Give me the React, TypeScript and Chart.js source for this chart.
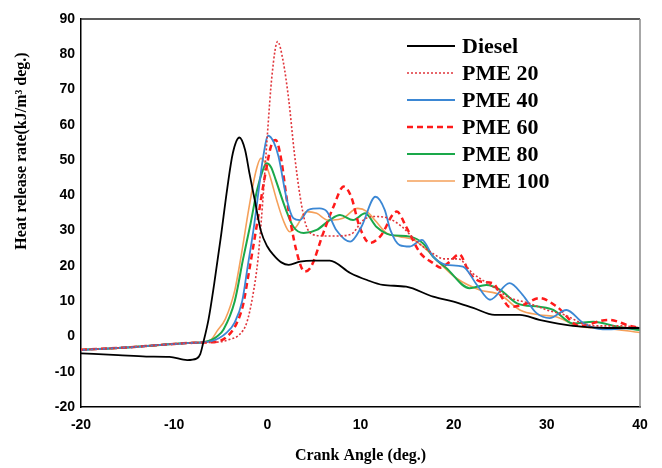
import React, { useEffect, useRef } from "react";
import { Chart, registerables } from "chart.js";

Chart.register(...registerables);

// ---- Data ----
const xTicks = [-20, -10, 0, 10, 20, 30, 40];
const yTicks = [-20, -10, 0, 10, 20, 30, 40, 50, 60, 70, 80, 90];

const dieselAngle = [-20, -16, -13, -10.5, -8.6, -7.6, -7.2, -6.9, -6.3, -5.7, -5.0, -4.3, -3.7, -3.0, -2.4, -1.9, -1.3, -0.7, 0, 0.7, 1.5, 2.3, 3.5, 5, 6.7, 8.9, 10.7, 12.4, 14.9, 17.8, 20, 22.1, 24.4, 27.1, 29.2, 32.8, 36.4, 40];
const dieselHRR = [-4.8, -5.3, -5.7, -5.8, -6.7, -6.3, -5, -2, 5, 15, 28, 42, 52, 56.4, 53, 46, 38, 30, 25.5, 23, 21, 20.3, 21.2, 21.5, 21.5, 18, 16, 14.6, 14.1, 11.3, 9.9, 8.1, 6.1, 6.1, 4.7, 3.0, 2.4, 2.4];

const pme20Angle = [-20, -15, -11.5, -8, -6.5, -5, -4, -3, -2.2, -1.6, -1.0, -0.5, 0, 0.5, 1.1, 1.7, 2.3, 2.9, 3.5, 4.1, 4.8, 6, 7.5, 9, 10.3, 11.5, 13, 14.5, 16, 17.5, 19, 20.5, 22, 24, 26, 28, 30, 32, 34, 36, 38, 40];
const pme20HRR = [-3.8, -3.1, -2.4, -1.8, -1.7, -1.5, -0.8, 0.5, 4, 11, 22, 38, 57, 74, 83.6, 78, 67, 52, 40, 32, 29, 28.5, 28.5, 29, 33, 34, 33.5, 31, 27, 24, 22, 22, 18, 14.5, 11, 9.5, 7.5, 6, 3.5, 3, 3, 2.5];

const pme40Angle = [-20, -15, -11.5, -8, -7, -6, -5.2, -4.4, -3.5, -2.7, -2.1, -1.5, -1.0, -0.5, 0.1, 0.7, 1.2, 2.1, 2.8, 3.5, 4.4, 5.6, 6.4, 7.4, 8.9, 10.1, 11.6, 12.6, 13.2, 14.2, 15.3, 16.6, 17.8, 19.2, 21, 22.5, 23.9, 26, 27.4, 28.9, 30.3, 32.1, 33.9, 36, 38, 40];
const pme40HRR = [-3.8, -3.1, -2.4, -1.8, -1.7, -1.3, -0.5, 1.0, 4, 10, 20, 30, 40, 50, 56.9, 55, 51, 38.7, 33.5, 33, 35.9, 36.3, 35.4, 30.2, 26.9, 31.1, 39.6, 35.9, 30.2, 25.9, 25.5, 27.4, 22.6, 20.3, 19.8, 14.6, 10.4, 15.1, 11.8, 6.6, 5.2, 7.5, 3.8, 2.0, 2.2, 2.4];

const pme60Angle = [-20, -15, -11.5, -8, -6.5, -5.4, -4.3, -3.3, -2.6, -2.0, -1.1, -0.2, 0.5, 0.9, 1.5, 2.1, 3.1, 4.0, 4.7, 6.0, 7.1, 8.2, 9.0, 9.9, 11.0, 12.1, 13.9, 14.9, 16.4, 17.8, 18.6, 19.5, 20.6, 21.7, 23.0, 24.2, 25.2, 26.0, 27.5, 29.2, 31.1, 33.5, 36.6, 39.2, 40];
const pme60HRR = [-3.8, -3.1, -2.4, -1.8, -1.7, -1.5, 0, 3.7, 9, 17.9, 32, 46.3, 54.8, 55.7, 50, 38.7, 24.5, 18.4, 19.8, 29.3, 36.8, 42.5, 39.6, 31.1, 26.5, 28.3, 35.4, 31.1, 23.7, 20.8, 19.5, 21, 23.3, 18, 15.5, 15.1, 11, 8.4, 9, 10.9, 8.4, 3, 4.7, 2.8, 2.5];

const pme80Angle = [-20, -15, -11.5, -8, -7, -6, -5.4, -4.7, -3.5, -2.6, -1.8, -1.1, -0.5, -0.1, 0.4, 0.9, 2.0, 2.8, 3.9, 5.3, 6.7, 7.8, 9.2, 10.5, 11.7, 13.2, 15.3, 16.7, 17.8, 19.2, 21.7, 23.5, 25, 26.8, 29.2, 30.7, 32.8, 35, 37.5, 40];
const pme80HRR = [-3.8, -3.1, -2.4, -1.8, -1.7, -1.0, 0, 2, 10, 22, 32, 41.5, 47, 49.1, 48, 44.4, 35.9, 31.1, 29.3, 30.2, 33, 34.4, 33, 34.9, 31.1, 28.8, 28.3, 26.4, 22.6, 19.4, 13.7, 14.6, 13.2, 9.4, 8.4, 7.5, 3.7, 4.2, 2.8, 1.8];

const pme100Angle = [-20, -15, -11.5, -8, -7, -6, -5.4, -4.5, -3.5, -2.8, -2.0, -1.3, -0.7, -0.2, 0.3, 1.0, 1.7, 2.4, 3.1, 4.2, 5.3, 6.5, 7.1, 8.1, 9.7, 10.7, 11.7, 12.8, 14.2, 15.7, 16.7, 18.5, 20.3, 22.8, 25, 27.1, 29.2, 31, 33.5, 36.4, 40];
const pme100HRR = [-3.8, -3.1, -2.4, -1.8, -1.6, -0.8, 1.5, 5, 13, 23, 36, 46, 50.5, 49, 45.3, 38.7, 33, 29.7, 31.1, 35.4, 34.9, 33, 33, 33.5, 36.3, 35.4, 32.5, 29.3, 28.3, 27.4, 25.5, 20.8, 16.5, 13.2, 11.8, 7.5, 6.1, 5.6, 2.8, 2.3, 1.1];

const seriesNames = ["Diesel", "PME 20", "PME 40", "PME 60", "PME 80", "PME 100"];

const xTitle = "Crank Angle (deg.)";
const yTitle = "Heat release rate(kJ/m\u00B3 deg.)";

function pts(xs: number[], ys: number[]) {
  return xs.map((x, i) => ({ x, y: ys[i] }));
}

const overlayPlugin = {
  id: "overlay",
  afterDraw(chart: any) {
    const { ctx, chartArea: a } = chart;
    ctx.save();
    // top and right frame
    ctx.lineWidth = 1.5;
    ctx.strokeStyle = "#222";
    ctx.beginPath();
    ctx.moveTo(a.left, a.top);
    ctx.lineTo(a.right, a.top);
    ctx.stroke();
    ctx.strokeStyle = "#8a8a8a";
    ctx.beginPath();
    ctx.moveTo(a.right, a.top);
    ctx.lineTo(a.right, a.bottom);
    ctx.stroke();

    // legend
    const lx0 = a.right - 233;
    const lx1 = a.right - 185;
    chart.data.datasets.forEach((ds: any, i: number) => {
      const y = a.top + 27 + i * 27;
      ctx.strokeStyle = ds.borderColor;
      ctx.lineWidth = ds.borderWidth;
      ctx.setLineDash(ds.borderDash || []);
      ctx.beginPath();
      ctx.moveTo(lx0, y);
      ctx.lineTo(lx1, y);
      ctx.stroke();
      ctx.setLineDash([]);
      ctx.fillStyle = "#000";
      ctx.font = "bold 22px 'Liberation Serif', serif";
      ctx.textBaseline = "middle";
      ctx.textAlign = "left";
      ctx.fillText(ds.label, a.right - 178, y + 1);
    });

    // axis titles
    ctx.fillStyle = "#000";
    ctx.font = "bold 16px 'Liberation Serif', serif";
    ctx.textAlign = "center";
    ctx.textBaseline = "middle";
    ctx.fillText(xTitle, (a.left + a.right) / 2, a.bottom + 49);
    ctx.translate(22, a.top + 132);
    ctx.rotate(-Math.PI / 2);
    ctx.fillText(yTitle, 0, 0);
    ctx.restore();
  },
};

export default function App() {
  const ref = useRef<HTMLCanvasElement | null>(null);
  useEffect(() => {
    if (!ref.current) return;
    const tickFont = { family: "'Liberation Sans', Arial, sans-serif", size: 14, weight: "bold" as const };
    const chart = new Chart(ref.current, {
      type: "scatter",
      data: {
        datasets: [
          { label: seriesNames[0], data: pts(dieselAngle, dieselHRR), borderColor: "#000000", borderWidth: 1.8 },
          { label: seriesNames[1], data: pts(pme20Angle, pme20HRR), borderColor: "#e0353b", borderWidth: 1.6, borderDash: [2, 2] },
          { label: seriesNames[2], data: pts(pme40Angle, pme40HRR), borderColor: "#3b87d4", borderWidth: 1.8 },
          { label: seriesNames[3], data: pts(pme60Angle, pme60HRR), borderColor: "#ff1a1a", borderWidth: 2.5, borderDash: [6, 4] },
          { label: seriesNames[4], data: pts(pme80Angle, pme80HRR), borderColor: "#1aa84a", borderWidth: 2 },
          { label: seriesNames[5], data: pts(pme100Angle, pme100HRR), borderColor: "#f5a05a", borderWidth: 1.6 },
        ].map((d) => ({
          ...d,
          showLine: true,
          pointRadius: 0,
          pointHoverRadius: 0,
          fill: false,
          cubicInterpolationMode: "monotone" as const,
          backgroundColor: d.borderColor,
        })),
      },
      options: {
        animation: false,
        responsive: true,
        maintainAspectRatio: false,
        layout: { padding: { top: 19, right: 22, left: 0, bottom: 0 } },
        plugins: { legend: { display: false }, tooltip: { enabled: false } },
        scales: {
          x: {
            type: "linear",
            min: -20,
            max: 40,
            afterBuildTicks: (s: any) => { s.ticks = xTicks.map((v) => ({ value: v })); },
            afterFit: (s: any) => { s.height = 61; },
            grid: { display: false, drawTicks: false },
            border: { display: true, color: "#000", width: 1.5 },
            ticks: { font: tickFont, color: "#000", padding: 10, maxRotation: 0 },
          },
          y: {
            type: "linear",
            min: -20,
            max: 90,
            afterBuildTicks: (s: any) => { s.ticks = yTicks.map((v) => ({ value: v })); },
            afterFit: (s: any) => { s.width = 81; },
            grid: { display: false, drawTicks: false },
            border: { display: true, color: "#000", width: 1.5 },
            ticks: { font: tickFont, color: "#000", padding: 6 },
          },
        },
      },
      plugins: [overlayPlugin],
    });
    return () => chart.destroy();
  }, []);

  return (
    <div style={{ position: "fixed", left: 0, top: 0, width: 662, height: 468, background: "#fff" }}>
      <canvas ref={ref} />
    </div>
  );
}
